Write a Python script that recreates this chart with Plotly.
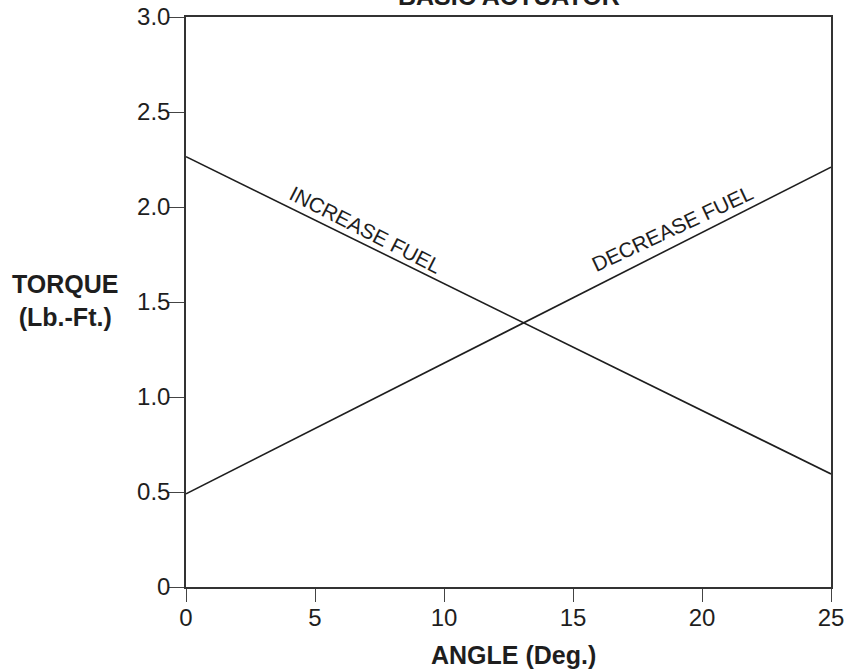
import plotly.graph_objects as go

# Data
angle = [0, 25]
increase_fuel = [2.265, 0.595]
decrease_fuel = [0.49, 2.21]

x_ticks = [0, 5, 10, 15, 20, 25]
x_tick_text = ["0", "5", "10", "15", "20", "25"]
y_ticks = [0, 0.5, 1.0, 1.5, 2.0, 2.5, 3.0]
y_tick_text = ["0", "0.5", "1.0", "1.5", "2.0", "2.5", "3.0"]

FONT = "Liberation Sans, Arial, Helvetica, sans-serif"
INK = "#1e1e1e"

fig = go.Figure()
fig.add_trace(go.Scatter(x=angle, y=increase_fuel, mode="lines",
                         line=dict(color=INK, width=1.6), name="INCREASE FUEL",
                         showlegend=False, hoverinfo="skip"))
fig.add_trace(go.Scatter(x=angle, y=decrease_fuel, mode="lines",
                         line=dict(color=INK, width=1.6), name="DECREASE FUEL",
                         showlegend=False, hoverinfo="skip"))

fig.update_layout(
    width=845, height=670,
    margin=dict(l=186, r=14, t=17, b=83, autoexpand=False),
    paper_bgcolor="white", plot_bgcolor="white",
    font=dict(family=FONT, color=INK),
    showlegend=False,
)

fig.update_xaxes(
    range=[0, 25], tickvals=x_ticks, ticktext=x_tick_text,
    showgrid=False, zeroline=False, automargin=False,
    showline=True, linecolor="#333", linewidth=1.5, mirror=True,
    ticks="outside", ticklen=13, tickwidth=1.3, tickcolor="#444",
    ticklabelstandoff=-5, ticklabeloverflow="allow",
    tickfont=dict(size=24, family=FONT, color=INK),
)
fig.update_yaxes(
    range=[0, 3], tickvals=y_ticks, ticktext=y_tick_text,
    showgrid=False, zeroline=False, automargin=False,
    showline=True, linecolor="#333", linewidth=1.5, mirror=True,
    ticks="outside", ticklen=16, tickwidth=1.3, tickcolor="#444",
    ticklabelstandoff=-7, ticklabeloverflow="allow",
    tickfont=dict(size=24, family=FONT, color=INK),
)

annotations = [
    # title, partly clipped at the top as in the reference
    dict(text="<b>BASIC ACTUATOR</b>", xref="paper", yref="paper", x=0.5, y=1,
         xanchor="center", yanchor="bottom", yshift=5, showarrow=False,
         font=dict(size=25, family=FONT, color=INK)),
    # y-axis title
    dict(text="<b>TORQUE</b><br><b>(Lb.-Ft.)</b>", xref="paper", yref="y",
         x=0, y=1.5, xanchor="center", yanchor="middle", xshift=-121, yshift=2,
         showarrow=False, align="center",
         font=dict(size=25, family=FONT, color=INK)),
    # x-axis title
    dict(text="<b>ANGLE (Deg.)</b>", xref="paper", yref="paper", x=0.5, y=0,
         xanchor="center", yanchor="top", xshift=5, yshift=-52, showarrow=False,
         font=dict(size=25, family=FONT, color=INK)),
    # line labels
    dict(text="INCREASE FUEL", xref="x", yref="y", x=6.94, y=1.88,
         textangle=27, showarrow=False,
         font=dict(size=21, family=FONT, color=INK)),
    dict(text="DECREASE FUEL", xref="x", yref="y", x=18.84, y=1.885,
         textangle=-25, showarrow=False,
         font=dict(size=21, family=FONT, color=INK)),
]
fig.update_layout(annotations=annotations)

fig.write_html(
    "out.html",
    config={"displayModeBar": False},
    post_script="document.body.style.margin='0';",
)
